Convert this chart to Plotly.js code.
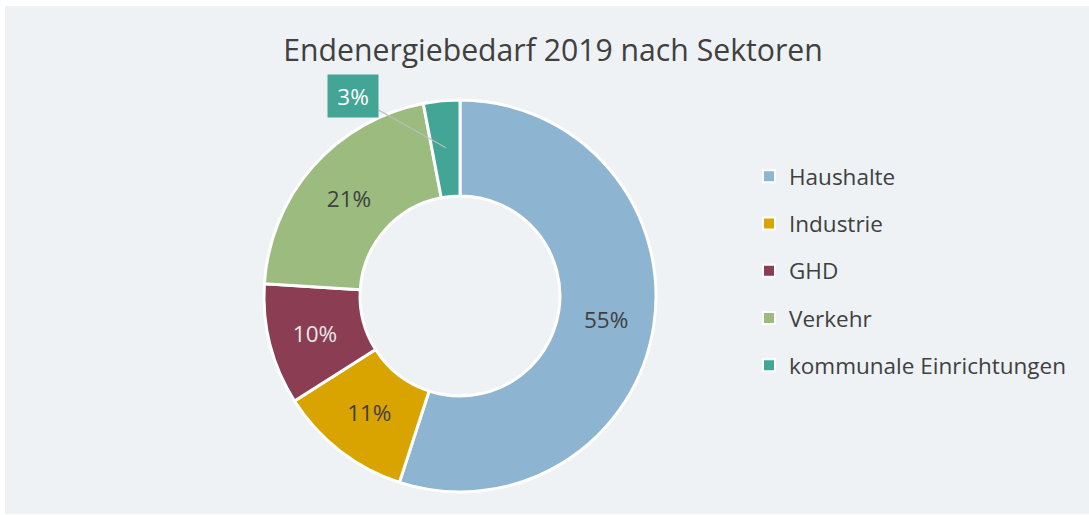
<!DOCTYPE html>
<html><head><meta charset="utf-8">
<script src="https://cdn.plot.ly/plotly-3.0.1.min.js"></script>
<style>html,body{margin:0;padding:0;background:#ffffff;} #chart{position:absolute;left:5px;top:6px;width:1084px;height:508px;}</style>
</head><body><div id="chart"></div>
<script>
const categories = ['Haushalte', 'Industrie', 'GHD', 'Verkehr', 'kommunale Einrichtungen'];
const shares = [55, 11, 10, 21, 3];
const colors = ['#8db4d0', '#daa400', '#8a3d53', '#9bbc7e', '#43a595'];
const labelColors = ['#404040', '#404040', '#e8e8e8', '#404040', '#ffffff'];
const titleText = 'Endenergiebedarf 2019 nach Sektoren';

const W = 1084, H = 508;
const cx = 455, cy = 290, R = 196;
const FONT = '"Open Sans", "Noto Sans", sans-serif';

const templates = shares.map((v, i) => i === shares.length - 1 ? '' : '%{percent}');

const pie = {
  type: 'pie',
  labels: categories,
  values: shares,
  sort: false,
  direction: 'clockwise',
  rotation: 0,
  hole: 0.51,
  marker: {colors: colors, line: {color: '#ffffff', width: 3}},
  texttemplate: templates,
  textposition: 'inside',
  insidetextorientation: 'horizontal',
  textfont: {family: FONT, size: 22.5, color: labelColors},
  showlegend: false,
  domain: {x: [(cx - R) / W, (cx + R) / W], y: [1 - (cy + R) / H, 1 - (cy - R) / H]},
  hoverinfo: 'label+percent'
};

const legendTraces = categories.map((c, i) => ({
  type: 'scatter', mode: 'markers', x: [null], y: [null],
  name: c, legendgroup: 'g' + i, showlegend: true,
  marker: {symbol: 'square', size: 12, color: colors[i], line: {color: '#ffffff', width: 2}},
  hoverinfo: 'skip'
}));

// outside label for the last slice, positioned from the data
const total = shares.reduce((a, b) => a + b, 0);
const before = shares.slice(0, -1).reduce((a, b) => a + b, 0);
const frac = (before + shares[shares.length - 1] / 2) / total;
const th = 2 * Math.PI * frac;
const rr = 0.76 * R;
const px = cx + rr * Math.sin(th), py = cy - rr * Math.cos(th);
const lastPct = Math.round(shares[shares.length - 1] / total * 100) + '%';

const layout = {
  width: W, height: H,
  margin: {l: 0, r: 0, t: 0, b: 0},
  paper_bgcolor: '#eef2f5',
  plot_bgcolor: 'rgba(0,0,0,0)',
  font: {family: FONT, color: '#404040'},
  title: {text: titleText, font: {family: FONT, size: 30.2, color: '#404040'},
          x: 548 / W, xanchor: 'center', y: 1 - 44 / H, yanchor: 'middle', yref: 'container'},
  xaxis: {visible: false}, yaxis: {visible: false},
  legend: {x: 744 / W, xanchor: 'left', y: 1 - 149 / H, yanchor: 'top',
           traceorder: 'grouped', tracegroupgap: 15,
           font: {family: FONT, size: 22.5, color: '#404040'}, bgcolor: 'rgba(0,0,0,0)'},
  annotations: [{
    xref: 'paper', yref: 'paper', x: px / W, y: 1 - py / H,
    text: lastPct, showarrow: true, arrowhead: 0, arrowwidth: 1.2, arrowcolor: '#bdbdbd',
    ax: -93, ay: -52, bgcolor: colors[colors.length - 1], width: 48, height: 40,
    font: {family: FONT, size: 22.5, color: '#ffffff'}
  }]
};

Plotly.newPlot('chart', [pie].concat(legendTraces), layout, {displayModeBar: false, staticPlot: true});
</script></body></html>
